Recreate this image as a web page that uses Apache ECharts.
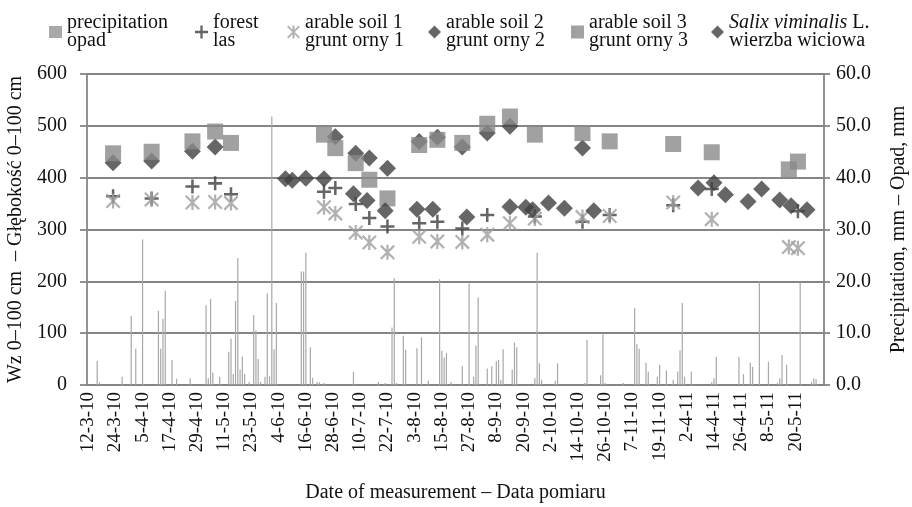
<!DOCTYPE html>
<html>
<head>
<meta charset="utf-8">
<script src="https://cdn.jsdelivr.net/npm/echarts@6/dist/echarts.min.js"></script>
<style>
html,body{margin:0;padding:0;background:#fff;}
#chart{width:912px;height:507px;}
</style>
</head>
<body>
<div id="chart"></div>
<script>
// ---- Category axis: daily dates (two measurement periods) ----
const periods = [['2010-03-12', '2010-11-25'], ['2011-03-28', '2011-06-01']];
const lastLabelDate = '20-5-11';

// ---- Precipitation (right axis, mm) ----
const precipDates = ['16-3-10','17-3-10','27-3-10','31-3-10','2-4-10','5-4-10','12-4-10','13-4-10','14-4-10','15-4-10','18-4-10','20-4-10','26-4-10',
  '3-5-10','4-5-10','5-5-10','6-5-10','9-5-10','13-5-10','14-5-10','15-5-10','16-5-10','17-5-10','18-5-10','19-5-10','20-5-10','22-5-10','24-5-10','25-5-10','26-5-10','27-5-10','29-5-10','30-5-10','31-5-10',
  '1-6-10','2-6-10','3-6-10','14-6-10','15-6-10','16-6-10','18-6-10','19-6-10','21-6-10','22-6-10','24-6-10',
  '7-7-10','18-7-10','21-7-10','24-7-10','25-7-10','26-7-10','29-7-10','30-7-10',
  '4-8-10','6-8-10','9-8-10','14-8-10','15-8-10','16-8-10','17-8-10','19-8-10','24-8-10','27-8-10','29-8-10','30-8-10','31-8-10',
  '4-9-10','6-9-10','8-9-10','9-9-10','10-9-10','11-9-10','15-9-10','16-9-10','17-9-10','25-9-10','26-9-10','27-9-10','28-9-10',
  '4-10-10','5-10-10','17-10-10','18-10-10','24-10-10','25-10-10','26-10-10',
  '3-11-10','8-11-10','9-11-10','10-11-10','13-11-10','14-11-10','18-11-10','19-11-10','22-11-10','25-11-10',
  '29-3-11','30-3-11','31-3-11','1-4-11','4-4-11','13-4-11','14-4-11','15-4-11','25-4-11','27-4-11','30-4-11',
  '1-5-11','4-5-11','8-5-11','12-5-11','13-5-11','14-5-11','16-5-11','22-5-11','27-5-11','28-5-11','29-5-11'];
const precipValues = [4.7,0.5,1.6,13.3,7.0,28.1,14.3,7.0,12.8,18.2,4.8,1.2,1.3,
  15.4,1.3,16.6,2.4,1.6,6.4,8.9,2.1,16.2,24.5,3.0,5.5,2.1,0.6,13.5,10.5,5.0,0.6,1.6,17.7,1.7,
  51.8,6.9,15.8,21.9,21.9,25.5,7.3,1.4,0.6,0.5,0.4,
  2.5,0.6,0.4,11.1,20.6,0.4,9.5,6.8,
  7.1,9.2,0.8,20.4,6.6,5.3,6.2,0.6,3.6,19.6,1.6,7.6,16.9,
  3.2,3.6,4.6,4.8,1.0,6.9,3.0,8.2,7.3,1.3,25.5,4.2,1.0,
  0.8,4.2,0.4,8.7,1.9,9.8,0.4,
  0.4,14.8,7.9,7.0,4.3,2.6,1.6,3.9,2.8,1.0,
  2.6,6.7,15.8,1.6,2.6,0.6,1.3,5.4,5.4,2.1,4.3,
  3.5,19.9,4.5,0.4,1.3,5.8,3.9,19.8,0.6,1.3,1.1];

// ---- Soil water (left axis) ----
const forestDates = ['23-3-10','9-4-10','27-4-10','7-5-10','14-5-10','24-6-10','29-6-10','8-7-10','14-7-10','22-7-10','5-8-10','13-8-10','24-8-10','4-9-10','25-9-10','16-10-10','28-10-10','25-11-10','13-4-11','21-5-11'];
const forestValues = [364,360,383,389,368,373,380,349,322,306,312,315,302,328,325,315,328,347,378,335];

const soil1Dates = ['23-3-10','9-4-10','27-4-10','7-5-10','14-5-10','24-6-10','29-6-10','8-7-10','14-7-10','22-7-10','5-8-10','13-8-10','24-8-10','4-9-10','14-9-10','25-9-10','16-10-10','28-10-10','25-11-10','13-4-11','17-5-11','21-5-11'];
const soil1Values = [355,358,352,353,351,343,331,294,275,256,286,277,276,290,312,321,324,326,352,320,266,264];

const soil2Dates = ['23-3-10','9-4-10','27-4-10','7-5-10','29-6-10','8-7-10','14-7-10','22-7-10','5-8-10','13-8-10','24-8-10','4-9-10','14-9-10','16-10-10'];
const soil2Values = [429,432,451,459,479,447,438,418,470,478,459,486,499,457];

const soil3Dates = ['23-3-10','9-4-10','27-4-10','7-5-10','14-5-10','24-6-10','29-6-10','8-7-10','14-7-10','22-7-10','5-8-10','13-8-10','24-8-10','4-9-10','14-9-10','25-9-10','16-10-10','28-10-10','25-11-10','13-4-11','17-5-11','21-5-11'];
const soil3Values = [447,450,470,489,467,483,457,428,396,360,463,473,467,504,518,483,486,470,465,449,416,431];

const salixDates = ['7-6-10','10-6-10','16-6-10','24-6-10','7-7-10','13-7-10','21-7-10','4-8-10','11-8-10','26-8-10','14-9-10','21-9-10','24-9-10','1-10-10','8-10-10','21-10-10','7-4-11','14-4-11','19-4-11','29-4-11','5-5-11','13-5-11','18-5-11','25-5-11'];
const salixValues = [398,395,399,398,369,356,336,339,339,324,344,343,338,351,341,336,380,390,367,354,378,357,346,338];

// ---- Texts ----
const seriesNames = ['precipitation','forest','arable soil 1','arable soil 2','arable soil 3','Salix viminalis L.'];
const legendLabels = ['precipitation\nopad','forest\nlas','arable soil 1\ngrunt orny 1','arable soil 2\ngrunt orny 2','arable soil 3\ngrunt orny 3','{i|Salix viminalis} L.\nwierzba wiciowa'];
const leftAxisName = 'Wz 0\u2013100 cm  \u2013 G\u0142\u0119boko\u015b\u0107 0\u2013100 cm';
const rightAxisName = 'Precipitation, mm \u2013 Opad, mm';
const xAxisName = 'Date of measurement \u2013 Data pomiaru';

// ---- build categories ----
function fmt(d){ return d.getUTCDate() + '-' + (d.getUTCMonth()+1) + '-' + String(d.getUTCFullYear()).slice(2); }
const categories = [];
periods.forEach(function(p){
  let d = new Date(p[0] + 'T00:00:00Z');
  const e = new Date(p[1] + 'T00:00:00Z');
  while (d <= e) { categories.push(fmt(d)); d = new Date(d.getTime() + 86400000); }
});
const lastLabelIdx = categories.indexOf(lastLabelDate);

function pairs(dates, vals){
  return dates.map(function(d, i){ return [categories.indexOf(d), vals[i]]; });
}
const precipData = categories.map(function(){ return null; });
precipDates.forEach(function(d, i){ precipData[categories.indexOf(d)] = precipValues[i]; });

const FONT = 'Liberation Serif';
const TXT = '#111111';
const GRIDC = '#858585';
const plusPath = 'path://M4.1,0 L5.9,0 L5.9,4.1 L10,4.1 L10,5.9 L5.9,5.9 L5.9,10 L4.1,10 L4.1,5.9 L0,5.9 L0,4.1 L4.1,4.1 Z';
const starPath = 'path://M4.25,0 L5.75,0 L5.75,10 L4.25,10 Z M0,1.05 L1.05,0 L10,8.95 L8.95,10 Z M8.95,0 L10,1.05 L1.05,10 L0,8.95 Z';

const legendLeft = [49, 195, 287, 428, 571, 711];
const legendIcon = ['rect', null, null, null, null, null];
const legendSize = [[13,12],[13,13],[13,13],[13,13],[13,13],[13,13]];

const chart = echarts.init(document.getElementById('chart'), null, {renderer: 'canvas'});
const option = {
  animation: false,
  backgroundColor: '#ffffff',
  textStyle: { fontFamily: FONT },
  grid: { left: 87, right: 88, top: 74, bottom: 122, outerBoundsMode: 'none' },
  legend: seriesNames.map(function(n, i){
    const l = {
      data: [n], left: legendLeft[i], top: 13, padding: 0,
      itemWidth: legendSize[i][0], itemHeight: legendSize[i][1], itemGap: 0,
      selectedMode: false,
      formatter: function(){ return legendLabels[i]; },
      textStyle: { fontFamily: FONT, fontSize: 20, lineHeight: 18, color: TXT,
        rich: { i: { fontFamily: FONT, fontSize: 20, lineHeight: 18, fontStyle: 'italic', color: TXT } } }
    };
    if (legendIcon[i]) l.icon = legendIcon[i];
    return l;
  }),
  xAxis: {
    type: 'category', data: categories, boundaryGap: true,
    name: xAxisName, nameLocation: 'middle', nameGap: 98,
    nameTextStyle: { fontFamily: FONT, fontSize: 20, color: TXT },
    axisLine: { lineStyle: { color: GRIDC, width: 1.8 } },
    axisTick: { show: false },
    axisLabel: { interval: function(idx){ return idx % 12 === 0 && idx <= lastLabelIdx; },
      rotate: 90, margin: 7, fontFamily: FONT, fontSize: 19, color: TXT },
    splitLine: { show: false }
  },
  yAxis: [
    {
      type: 'value', min: 0, max: 600, interval: 100, position: 'left',
      name: leftAxisName, nameLocation: 'middle', nameGap: 57, nameRotate: 90,
      nameTextStyle: { fontFamily: FONT, fontSize: 20, color: TXT },
      axisLine: { show: true, lineStyle: { color: GRIDC, width: 1.8 } },
      axisTick: { show: true, length: 7, lineStyle: { color: GRIDC, width: 1.8 } },
      axisLabel: { margin: 20, fontFamily: FONT, fontSize: 20, color: TXT },
      splitLine: { show: true, lineStyle: { color: GRIDC, width: 1.8 } }
    },
    {
      type: 'value', min: 0, max: 60, interval: 10, position: 'right',
      name: rightAxisName, nameLocation: 'middle', nameGap: 65, nameRotate: 90,
      nameTextStyle: { fontFamily: FONT, fontSize: 20, color: TXT },
      axisLine: { show: true, lineStyle: { color: GRIDC, width: 1.8 } },
      axisTick: { show: true, length: 6, lineStyle: { color: GRIDC, width: 1.8 } },
      axisLabel: { margin: 12, fontFamily: FONT, fontSize: 20, color: TXT, formatter: function(v){ return v.toFixed(1); } },
      splitLine: { show: false }
    }
  ],
  series: [
    { name: seriesNames[0], type: 'bar', yAxisIndex: 1, data: precipData, barWidth: 1.2,
      itemStyle: { color: '#a8a8a8' } },
    { name: seriesNames[1], type: 'scatter', yAxisIndex: 0, data: pairs(forestDates, forestValues),
      symbol: plusPath, symbolSize: 14, itemStyle: { color: '#3f3f3f' } },
    { name: seriesNames[2], type: 'scatter', yAxisIndex: 0, data: pairs(soil1Dates, soil1Values),
      symbol: starPath, symbolSize: 15, itemStyle: { color: '#9e9e9e' } },
    { name: seriesNames[3], type: 'scatter', yAxisIndex: 0, data: pairs(soil2Dates, soil2Values),
      symbol: 'diamond', symbolSize: 17, itemStyle: { color: '#404040' } },
    { name: seriesNames[4], type: 'scatter', yAxisIndex: 0, data: pairs(soil3Dates, soil3Values),
      symbol: 'rect', symbolSize: 16, itemStyle: { color: '#8a8a8a' } },
    { name: seriesNames[5], type: 'scatter', yAxisIndex: 0, data: pairs(salixDates, salixValues),
      symbol: 'diamond', symbolSize: 17, itemStyle: { color: '#404040' } }
  ]
};
chart.setOption(option);
</script>
</body>
</html>
